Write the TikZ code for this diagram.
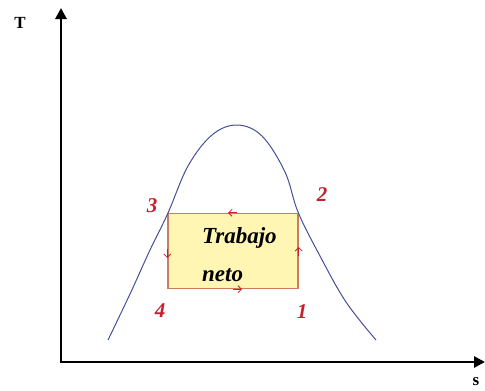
\documentclass[tikz,border=0pt]{standalone}
\usepackage{fontspec}
\setmainfont{Liberation Serif}
\usetikzlibrary{arrows.meta,calc}
\definecolor{boxedge}{RGB}{205,125,95}
\definecolor{boxfill}{RGB}{255,246,180}
\definecolor{numred}{RGB}{200,30,45}
\definecolor{curveblue}{RGB}{70,80,150}
\begin{document}
\begin{tikzpicture}[x=1pt,y=-1pt,
  axis/.style={line width=2.8pt,-{Triangle[length=11pt,width=11pt]}},
  curve/.style={draw=curveblue,line width=1pt},
  num/.style={text=numred,font=\bfseries\itshape\fontsize{21}{21}\selectfont},
  cyclebox/.style={draw=boxedge,fill=boxfill,line width=1.4pt,minimum width=130pt,minimum height=75pt,inner sep=0pt},
  worktext/.style={font=\bfseries\itshape\fontsize{23}{23}\selectfont,anchor=base west,inner sep=0pt},
  marker/.style={draw=numred,line width=0.8pt,-{Straight Barb[length=3.5pt,width=7pt]}}]
\useasboundingbox (0,0) rectangle (485,391);
\coordinate (o) at (61,362);
\coordinate (ytop) at (61,8);
\coordinate (xend) at (485,362);
\draw[axis] (o) -- (ytop);
\draw[axis] ($(o)+(-1.4,0)$) -- (xend);
\node[font=\bfseries\fontsize{17}{17}\selectfont] (T) at (20,23) {T};
\node[font=\bfseries\fontsize{17}{17}\selectfont] (S) at (476,382) {s};
\node[cyclebox] (box) at (233,251) {};
\draw[curve] plot[smooth,tension=0.6] coordinates {(108,340) (130,294) (150,250) (168,213) (188,166) (212,135) (237,125) (262,136) (285,172) (298,212) (320,256) (346,302) (376,340)};
\node[worktext] (t1) at (202,243) {Trabajo};
\node[worktext] (t2) at (202,281) {neto};
\draw[marker] ($(box.north)+(4,0)$) -- ($(box.north)+(-5,0)$);
\draw[marker] ($(box.south)+(0,0)$) -- ($(box.south)+(9,0)$);
\draw[marker] ($(box.west)+(0,-2)$) -- ($(box.west)+(0,7)$);
\draw[marker] ($(box.east)+(0,5)$) -- ($(box.east)+(0,-4)$);
\node[num] (n3) at (152,206) {3};
\node[num] (n2) at (322,195) {2};
\node[num] (n4) at (160,311) {4};
\node[num] (n1) at (302,312) {1};
\end{tikzpicture}
\end{document}
